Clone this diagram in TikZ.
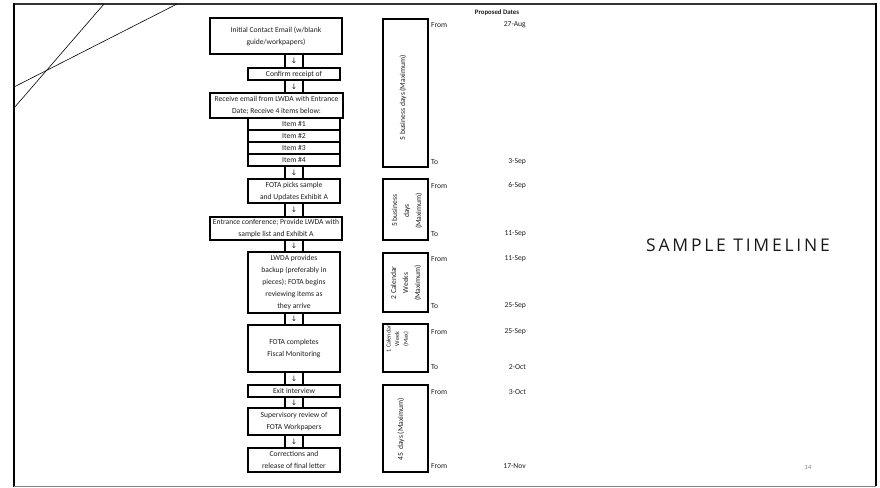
\documentclass[tikz,border=0pt]{standalone}
\usepackage{fontspec}
\setmainfont{Carlito}
\newfontfamily\arrowfont{DejaVu Sans}
\newfontfamily\titlefont[LetterSpace=16]{Open Sans}
\definecolor{txt}{HTML}{1E1E1E}
\begin{document}
\begin{tikzpicture}[x=1pt,y=-1pt,
  cell/.style={draw, line width=1.3pt, inner sep=0pt, align=center, text=txt,
    font=\fontsize{7.6}{12}\selectfont},
  arrowcell/.style={cell, minimum width=18, font=\arrowfont\fontsize{7.5}{8}\selectfont},
  tbox/.style={draw, line width=1.3pt, inner sep=0pt, minimum width=45},
  rot/.style={rotate=90, align=center, inner sep=0pt, text=txt, font=\fontsize{7.6}{12}\selectfont},
  lbl/.style={inner sep=0pt, text=txt, font=\fontsize{7.6}{9}\selectfont},
]
\useasboundingbox (0,0) rectangle (880,487);
% frame
\draw[line width=2.5pt, black!80] (13,4) -- (877,4);
\draw[line width=2pt] (14,3) -- (14,487);
\draw[line width=2pt] (876,3) -- (876,486);
\draw[line width=1pt, gray] (14,486) -- (876,486);
% diagonals
\draw[line width=0.6pt] (104,4) -- (14,108);
\draw[line width=0.6pt] (177,4) -- (14,87);

% flow boxes
\node[cell, minimum width=132, minimum height=36] (b1) at (276,36) {Initial Contact Email (w/blank\\guide/workpapers)};
\node[arrowcell, minimum height=14] (a1) at (294,61) {↓};
\node[cell, minimum width=92, minimum height=12] (b2) at (294,74) {Confirm receipt of};
\node[arrowcell, minimum height=13] (a2) at (294,86.5) {↓};
\node[cell, minimum width=133, minimum height=25] (b3) at (276.5,105.5) {Receive email from LWDA with Entrance\\Date; Receive 4 items below:};
\node[cell, minimum width=92, minimum height=12] (i1) at (294,124) {Item \#1};
\node[cell, minimum width=92, minimum height=12] (i2) at (294,136) {Item \#2};
\node[cell, minimum width=92, minimum height=12] (i3) at (294,148) {Item \#3};
\node[cell, minimum width=92, minimum height=12] (i4) at (294,160) {Item \#4};
\node[arrowcell, minimum height=13] (a3) at (294,172.5) {↓};
\node[cell, minimum width=92, minimum height=24] (b4) at (294,191) {FOTA picks sample\\and Updates Exhibit A};
\node[arrowcell, minimum height=14] (a4) at (294,210) {↓};
\node[cell, minimum width=132, minimum height=23] (b5) at (276,228.5) {Entrance conference; Provide LWDA with\\sample list and Exhibit A};
\node[arrowcell, minimum height=12] (a5) at (294,246) {↓};
\node[cell, minimum width=92, minimum height=61] (b6) at (294,282.5) {LWDA provides\\backup (preferably in\\pieces); FOTA begins\\reviewing items as\\they arrive};
\node[arrowcell, minimum height=12] (a6) at (294,319) {↓};
\node[cell, minimum width=92, minimum height=47] (b7) at (294,348.5) {FOTA completes\\Fiscal Monitoring};
\node[arrowcell, minimum height=13] (a7) at (294,378.5) {↓};
\node[cell, minimum width=92, minimum height=12] (b8) at (294,391) {Exit interview};
\node[arrowcell, minimum height=11] (a8) at (294,402.5) {↓};
\node[cell, minimum width=92, minimum height=27] (b9) at (294,421.5) {Supervisory review of\\FOTA Workpapers};
\node[arrowcell, minimum height=13] (a9) at (294,441.5) {↓};
\node[cell, minimum width=92, minimum height=24] (b10) at (294,460) {Corrections and\\release of final letter};

% time boxes
\node[tbox, minimum height=148] (tA) at (405.5,93) {};
\node[rot] (rA) at (403,98) {5 business days (Maximum)};
\node[tbox, minimum height=61] (tB) at (405.5,209.5) {};
\node[rot] (rB) at (407,211) {5 business\\days\\(Maximum)};
\node[tbox, minimum height=59] (tC) at (405.5,282.5) {};
\node[rot] (rC) at (406,283) {2 Calendar\\Weeks\\(Maximum)};
\node[tbox, minimum height=48] (tD) at (405.5,348) {};
\node[rot, font=\fontsize{6.1}{8.6}\selectfont] (rD) at (397.5,339) {1 Calendar\\Week\\(Max)};
\node[tbox, minimum height=87] (tE) at (405.5,428.5) {};
\node[rot] (rE) at (401,429.5) {45\ \ days (Maximum)};

% dates
\node[lbl, font=\bfseries\fontsize{6.8}{8}\selectfont] (pd) at (497,13) {Proposed Dates};
\node[lbl, anchor=west] (fA) at (431,25) {From};
\node[lbl, anchor=east] (dA1) at (526,25) {27-Aug};
\node[lbl, anchor=west] (tAl) at (431,162) {To};
\node[lbl, anchor=east] (dA2) at (526,162) {3-Sep};
\node[lbl, anchor=west] (fB) at (431,186) {From};
\node[lbl, anchor=east] (dB1) at (526,186) {6-Sep};
\node[lbl, anchor=west] (tBl) at (431,234) {To};
\node[lbl, anchor=east] (dB2) at (526,234) {11-Sep};
\node[lbl, anchor=west] (fC) at (431,259) {From};
\node[lbl, anchor=east] (dC1) at (526,259) {11-Sep};
\node[lbl, anchor=west] (tCl) at (431,306) {To};
\node[lbl, anchor=east] (dC2) at (526,306) {25-Sep};
\node[lbl, anchor=west] (fD) at (431,332) {From};
\node[lbl, anchor=east] (dD1) at (526,332) {25-Sep};
\node[lbl, anchor=west] (tDl) at (431,367) {To};
\node[lbl, anchor=east] (dD2) at (526,367) {2-Oct};
\node[lbl, anchor=west] (fE) at (431,392) {From};
\node[lbl, anchor=east] (dE1) at (526,392) {3-Oct};
\node[lbl, anchor=west] (fE2) at (431,466) {From};
\node[lbl, anchor=east] (dE2) at (526,466) {17-Nov};

% title and page number
\node[inner sep=0pt, text=black!90, font=\titlefont\fontsize{17.5}{19}\selectfont] (title) at (738,245) {SAMPLE TIMELINE};
\node[inner sep=0pt, text=gray, font=\fontsize{6.5}{8}\selectfont] (pg) at (808,467) {14};
\end{tikzpicture}
\end{document}
